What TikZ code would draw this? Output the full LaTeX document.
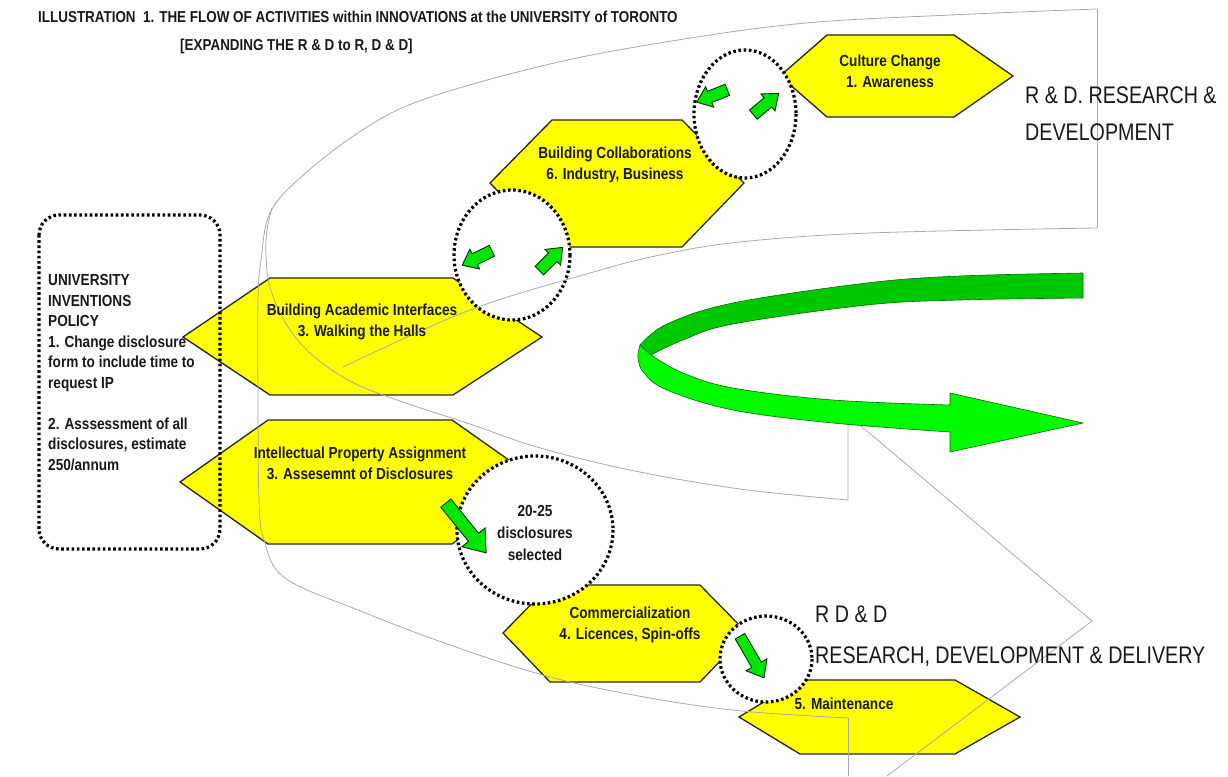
\documentclass[tikz,border=0pt]{standalone}
\usepackage{fontspec}
\setmainfont{Liberation Sans}[FakeStretch=0.85]
\newfontfamily\rdfont{Liberation Sans}[FakeStretch=0.82]
\definecolor{hexyellow}{RGB}{255,255,0}
\definecolor{greyline}{RGB}{170,170,170}
\definecolor{gdark}{RGB}{0,200,0}
\definecolor{glight}{RGB}{0,250,0}
\definecolor{gedge}{RGB}{0,110,0}
\definecolor{txt}{RGB}{25,25,25}
\newcommand{\hexa}[7]{\filldraw[hexstyle] (#1,#6) -- (#2,#5) -- (#3,#5) -- (#4,#6) -- (#3,#7) -- (#2,#7) -- cycle;}
\newcommand{\blockarr}[7]{%
\begin{scope}[shift={(#1,#2)}, rotate=#3]
\filldraw[smallarr] (-#4/2,-#5/2) -- (#4/2-#7,-#5/2) -- (#4/2-#7,-#6/2) -- (#4/2,0) -- (#4/2-#7,#6/2) -- (#4/2-#7,#5/2) -- (-#4/2,#5/2) -- cycle;
\end{scope}}
\tikzset{
  hexstyle/.style={fill=hexyellow, draw=black!85, line width=1.3pt, line join=miter},
  dotline/.style={draw=black, line width=3.2pt, dash pattern=on 2.6pt off 2.6pt},
  greyl/.style={draw=greyline, line width=0.8pt},
  smallarr/.style={fill=green!85!black!60!glight, draw=black!80!green, line width=0.9pt, line join=miter},
  hextext/.style={font=\bfseries\fontsize{16}{21}\selectfont, text=txt, align=center, inner sep=0pt, anchor=north},
  rdtext/.style={font=\rdfont\fontsize{24}{28}\selectfont, text=txt, inner sep=0pt, anchor=base west},
  titletext/.style={font=\bfseries\fontsize{15.8}{19}\selectfont, text=txt, inner sep=0pt, anchor=base west}
}
\begin{document}
\begin{tikzpicture}[x=1pt, y=-1pt]
\useasboundingbox (0,0) rectangle (1228,776);
\fill[white] (0,0) rectangle (1228,776);

% hexagons
\hexa{780}{827}{954}{1013}{35}{76}{117}
\hexa{490}{552}{682}{744}{120}{183}{247}
\hexa{183}{270}{453}{542}{278}{337}{395}
\hexa{180}{268}{452}{540}{420}{482}{544}
\hexa{503}{550}{700}{747}{585}{633}{682}
\hexa{739}{800}{955}{1020}{680}{717}{754}

% dotted circles
\filldraw[dotline, fill=white] (745,114) ellipse [x radius=51, y radius=64];
\filldraw[dotline, fill=white] (512,255) ellipse [x radius=58, y radius=65];
\filldraw[dotline, fill=white] (535,530) ellipse [x radius=78, y radius=74];
\filldraw[dotline, fill=white] (766,659) ellipse [x radius=46, y radius=43];

% policy box
\draw[dotline, rounded corners=20pt] (39,215) rectangle (220,549);

% small green arrows
\blockarr{712}{96}{202}{33}{12}{22}{14}
\blockarr{766}{104}{40}{33}{12}{22}{14}
\blockarr{477}{258}{206}{33}{12}{22}{14}
\blockarr{551}{259}{45}{33}{12}{22}{14}
\blockarr{466}{528}{-51}{64}{13}{30}{20}
\blockarr{752}{657}{-60}{48}{11}{24}{15}

% grey outline of the curved arrow
\draw[greyl] plot[smooth, tension=0.6] coordinates {(1097,9) (950,15) (806,23) (678,40) (550,64) (422,100) (358,133) (300,178) (270,213) (261,260) (258,300) (258,400) (259,500) (264,540) (285,578) (358,610) (450,645) (550,677) (650,698) (742,711) (848,718)};
\draw[greyl] (1097,9) -- (1097,228);
\draw[greyl] plot[smooth, tension=0.6] coordinates {(1097,228) (870,233) (740,242) (660,255) (590,273) (470,310) (343,367)};
\draw[greyl] plot[smooth, tension=0.6] coordinates {(272,208) (267,230) (266,255) (270,287) (285,322) (310,353) (350,381) (400,401) (470,424) (537,447) (630,470) (740,489) (848,500)};
\draw[greyl] (848,500) -- (848,415) -- (1092,621) -- (887,776);
\draw[greyl] (848,718) -- (848,776);

% big green ribbon arrow
\filldraw[fill=gdark, draw=gedge, line width=0.6pt] plot[smooth, tension=0.6] coordinates {(1083,273) (960,276) (867,283) (733,303) (667,324) (640,345)} -- (651,355) -- plot[smooth, tension=0.6] coordinates {(651,355) (683,340) (733,324) (867,305) (960,300) (1083,298)} -- cycle;
\filldraw[fill=glight, draw=gedge, line width=0.6pt] plot[smooth, tension=0.6] coordinates {(640,345) (638,358) (644,373) (667,390) (733,410) (833,423) (950,432)} -- (950,452) -- (1083,423) -- (950,393) -- plot[smooth, tension=0.6] coordinates {(950,405) (833,400) (733,388) (683,373) (651,355)} -- cycle;

% texts
\node[titletext] (t1) at (38,22.7) {ILLUSTRATION\ \ 1. THE FLOW OF ACTIVITIES within INNOVATIONS at the UNIVERSITY of TORONTO};
\node[titletext] (t2) at (180,50.7) {[EXPANDING THE R \& D to R, D \& D]};

\node[hextext] (cc) at (890,54.3) {Culture Change\\1. Awareness};
\node[hextext] (bc) at (615,146.3) {Building Collaborations\\6. Industry, Business};
\node[hextext] (ba) at (362,303.3) {Building Academic Interfaces\\3. Walking the Halls};
\node[hextext] (ip) at (360,446.3) {Intellectual Property Assignment\\3. Assesemnt of Disclosures};
\node[hextext, font=\bfseries\fontsize{16}{22}\selectfont] (ds) at (535,505.3) {20-25\\disclosures\\selected};
\node[hextext] (co) at (630,606.3) {Commercialization\\4. Licences, Spin-offs};
\node[hextext] (ma) at (844,697.3) {5. Maintenance};

\node[font=\bfseries\fontsize{16}{20.5}\selectfont, text=txt, align=left, inner sep=0pt, anchor=north west] (pol) at (48,274.3) {UNIVERSITY\\INVENTIONS\\POLICY\\1. Change disclosure\\form to include time to\\request IP\\[20.5pt]2. Asssessment of all\\disclosures, estimate\\250/annum};

\node[rdtext] (rd1) at (1025,103.6) {R \& D. RESEARCH \&};
\node[rdtext] (rd2) at (1025,140.6) {DEVELOPMENT};
\node[rdtext] (rdd1) at (815,622.6) {R D \& D};
\node[rdtext] (rdd2) at (815,663.6) {RESEARCH, DEVELOPMENT \& DELIVERY};
\end{tikzpicture}
\end{document}
